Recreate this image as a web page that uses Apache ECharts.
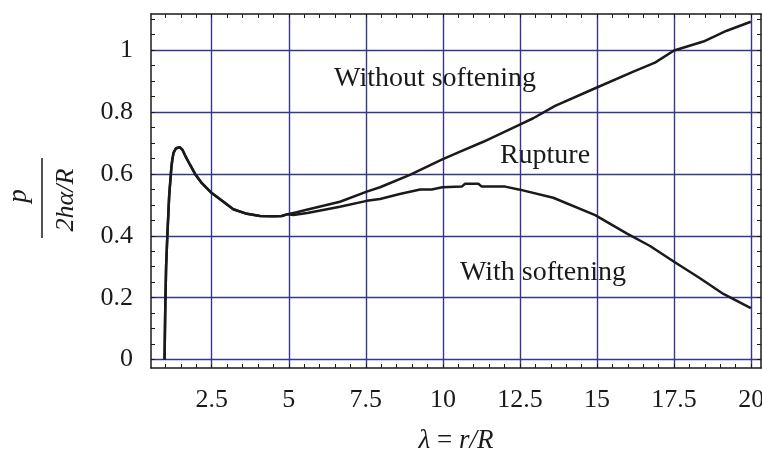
<!DOCTYPE html>
<html>
<head>
<meta charset="utf-8">
<script src="https://cdn.jsdelivr.net/npm/echarts@6/dist/echarts.min.js"></script>
<style>
  html, body { margin: 0; padding: 0; background: #fff; }
  #chart { width: 762px; height: 452px; }
</style>
</head>
<body>
<div id="chart"></div>
<script>
// Shared loading branch (both models coincide up to λ ≈ 5)
const lambdaCommon = [0.97, 0.99, 1.02, 1.06, 1.12, 1.19, 1.22, 1.26, 1.34, 1.47, 1.55, 1.66, 1.80, 1.96, 2.18, 2.5, 2.88, 3.2, 3.64, 4.07, 4.5, 4.77, 4.97];
const pCommon      = [0, 0.15, 0.3, 0.4, 0.53, 0.62, 0.645, 0.668, 0.683, 0.686, 0.678, 0.655, 0.629, 0.6, 0.57, 0.538, 0.51, 0.486, 0.471, 0.464, 0.463, 0.464, 0.47];

// Without softening
const lambdaWithout = [5.26, 5.58, 6.66, 7.53, 7.96, 8.93, 9.98, 10.56, 11.31, 12.46, 12.93, 13.64, 14.94, 16.18, 16.88, 17.5, 18.45, 19.21, 19.99];
const pWithout      = [0.476, 0.484, 0.51, 0.543, 0.557, 0.597, 0.647, 0.672, 0.704, 0.758, 0.78, 0.82, 0.877, 0.931, 0.96, 0.999, 1.028, 1.063, 1.092];

// With softening
const lambdaWith = [5.15, 5.6, 6.66, 7.53, 7.96, 8.6, 9.26, 9.64, 9.98, 10.61, 10.72, 11.15, 11.26, 12.02, 12.46, 13.58, 14.94, 15.96, 16.72, 17.5, 18.34, 19.1, 19.99];
const pWith      = [0.467, 0.474, 0.494, 0.513, 0.519, 0.535, 0.55, 0.55, 0.557, 0.559, 0.568, 0.568, 0.559, 0.559, 0.55, 0.523, 0.467, 0.408, 0.367, 0.316, 0.263, 0.212, 0.166];

// Axis ticks
const xMajorTicks = [2.5, 5, 7.5, 10, 12.5, 15, 17.5, 20];
const yMajorTicks = [0, 0.2, 0.4, 0.6, 0.8, 1];
const xMinorTicks = [1, 1.5, 2, 2.5, 3, 3.5, 4, 4.5, 5, 5.5, 6, 6.5, 7, 7.5, 8, 8.5, 9, 9.5, 10, 10.5, 11, 11.5, 12, 12.5, 13, 13.5, 14, 14.5, 15, 15.5, 16, 16.5, 17, 17.5, 18, 18.5, 19, 19.5, 20];
const yMinorTicks = [0, 0.05, 0.1, 0.15, 0.2, 0.25, 0.3, 0.35, 0.4, 0.45, 0.5, 0.55, 0.6, 0.65, 0.7, 0.75, 0.8, 0.85, 0.9, 0.95, 1, 1.05, 1.1];

const zip = (xs, ys) => xs.map((x, i) => [x, ys[i]]);
const withoutData = zip(lambdaCommon.concat(lambdaWithout), pCommon.concat(pWithout));
const withData = zip(lambdaCommon.concat(lambdaWith), pCommon.concat(pWith));

const X_MIN = 0.53, X_MAX = 20.32;
const Y_MIN = -0.0273, Y_MAX = 1.117;
const SERIF = "'Liberation Serif', 'DejaVu Serif', serif";
const GRID_COLOR = '#36368a';
const INK = '#1a1a1a';

function frameAxis(pos, ticks, isX) {
  return {
    type: 'value', position: pos,
    min: isX ? X_MIN : Y_MIN, max: isX ? X_MAX : Y_MAX,
    axisLine: { show: true, onZero: false, lineStyle: { color: INK, width: 1.5 } },
    axisTick: { show: true, inside: true, length: 4, customValues: ticks, lineStyle: { color: INK, width: 1 } },
    axisLabel: { show: false },
    splitLine: { show: false }
  };
}

const chart = echarts.init(document.getElementById('chart'), null, { renderer: 'canvas' });
chart.setOption({
  animation: false,
  backgroundColor: '#fff',
  grid: { left: 151, top: 14, width: 610, height: 354, containLabel: false, outerBoundsMode: 'none' },
  xAxis: [
    {
      type: 'value', position: 'bottom', min: X_MIN, max: X_MAX,
      axisLine: { show: false },
      axisTick: { show: false, customValues: xMajorTicks },
      axisLabel: { customValues: xMajorTicks, margin: 19, color: INK, fontFamily: SERIF, fontSize: 26 },
      splitLine: { show: true, lineStyle: { color: GRID_COLOR, width: 1.4 } },
      name: '{i|λ}{n| = }{i|r/R}',
      nameLocation: 'middle', nameGap: 59,
      nameTextStyle: {
        rich: {
          i: { fontFamily: SERIF, fontStyle: 'italic', fontSize: 27, color: INK },
          n: { fontFamily: SERIF, fontSize: 27, color: INK }
        }
      }
    },
    frameAxis('bottom', xMinorTicks, true),
    frameAxis('top', xMinorTicks, true)
  ],
  yAxis: [
    {
      type: 'value', position: 'left', min: Y_MIN, max: Y_MAX,
      axisLine: { show: false },
      axisTick: { show: false, customValues: yMajorTicks },
      axisLabel: { customValues: yMajorTicks, margin: 18, color: INK, fontFamily: SERIF, fontSize: 26 },
      splitLine: { show: true, lineStyle: { color: GRID_COLOR, width: 1.4 } }
    },
    frameAxis('left', yMinorTicks, false),
    frameAxis('right', yMinorTicks, false)
  ],
  series: [
    {
      name: 'Without softening', type: 'line', data: withoutData,
      xAxisIndex: 0, yAxisIndex: 0,
      showSymbol: false, smooth: false,
      lineStyle: { color: INK, width: 2.5 }
    },
    {
      name: 'With softening', type: 'line', data: withData,
      xAxisIndex: 0, yAxisIndex: 0,
      showSymbol: false, smooth: false,
      lineStyle: { color: INK, width: 2.5 }
    }
  ],
  graphic: [
    // y-axis title: fraction p / (2hα/R), read bottom-to-top
    { type: 'text', x: 19, y: 196, rotation: Math.PI / 2,
      style: { text: 'p', font: 'italic 27px ' + SERIF, fill: INK, align: 'center', verticalAlign: 'middle' } },
    { type: 'line', shape: { x1: 42, y1: 158, x2: 42, y2: 238 }, style: { stroke: INK, lineWidth: 1.5 } },
    { type: 'text', x: 66, y: 200, rotation: Math.PI / 2,
      style: { text: '2hα/R', font: 'italic 26px ' + SERIF, fill: INK, align: 'center', verticalAlign: 'middle' } },
    // curve annotations
    { type: 'text', x: 435, y: 79,
      style: { text: 'Without softening', font: '28px ' + SERIF, fill: INK, align: 'center', verticalAlign: 'middle' } },
    { type: 'text', x: 545, y: 156,
      style: { text: 'Rupture', font: '28px ' + SERIF, fill: INK, align: 'center', verticalAlign: 'middle' } },
    { type: 'text', x: 543, y: 273,
      style: { text: 'With softening', font: '28px ' + SERIF, fill: INK, align: 'center', verticalAlign: 'middle' } }
  ]
});
</script>
</body>
</html>
